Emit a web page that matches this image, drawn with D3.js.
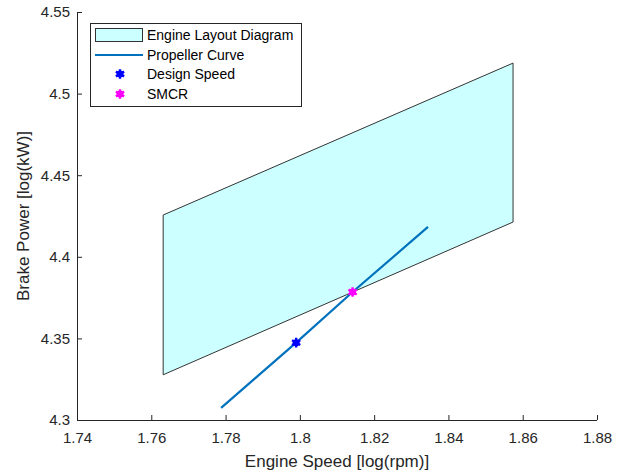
<!DOCTYPE html>
<html><head><meta charset="utf-8">
<script src="https://cdn.jsdelivr.net/npm/d3@7"></script>
<style>body{margin:0;background:#fff;} text{font-family:"Liberation Sans",Arial,sans-serif;}</style>
</head><body>
<svg id="c" width="628" height="473"></svg>
<script>
// Data
const layoutX = [1.7632, 1.7632, 1.8574, 1.8574];
const layoutY = [4.3277, 4.4256, 4.5187, 4.4213];
const propX = [1.7788, 1.7990, 1.8142, 1.8345];
const propY = [4.3074, 4.3474, 4.3784, 4.4183];
const designX = [1.7990], designY = [4.3474];
const smcrX = [1.8142], smcrY = [4.3784];
const xTicks = [1.74, 1.76, 1.78, 1.80, 1.82, 1.84, 1.86, 1.88];
const xTickLabels = ["1.74","1.76","1.78","1.8","1.82","1.84","1.86","1.88"];
const yTicks = [4.30, 4.35, 4.40, 4.45, 4.50, 4.55];
const yTickLabels = ["4.3","4.35","4.4","4.45","4.5","4.55"];
const legendLabels = ["Engine Layout Diagram","Propeller Curve","Design Speed","SMCR"];

const svg = d3.select("#c");
const L = 77, R = 597, T = 12, B = 420;
const x = d3.scaleLinear().domain([1.74, 1.88]).range([L, R]);
const y = d3.scaleLinear().domain([4.30, 4.55]).range([B, T]);
const axisCol = "#262626";

// patch
const poly = layoutX.map((v,i)=>[x(v), y(layoutY[i])]);
svg.append("path").attr("d", d3.line()(poly) + "Z")
  .attr("fill", "#ccffff").attr("stroke", "#333").attr("stroke-width", 1);

// propeller curve
svg.append("path").attr("d", d3.line().x(d=>x(d[0])).y(d=>y(d[1]))(propX.map((v,i)=>[v, propY[i]])))
  .attr("fill","none").attr("stroke","#0072BD").attr("stroke-width",2.2);

const star = d3.symbol().type(d3.symbolAsterisk).size(64);
function marker(g, cx, cy, col){
  g.append("path").attr("d", star()).attr("transform",`translate(${cx},${cy})`)
    .attr("fill","none").attr("stroke",col).attr("stroke-width",2.4);
  g.append("circle").attr("cx",cx).attr("cy",cy).attr("r",3.5).attr("fill",col);
}
designX.forEach((v,i)=>marker(svg, x(v), y(designY[i]), "#0000ff"));
smcrX.forEach((v,i)=>marker(svg, x(v), y(smcrY[i]), "#ff00ff"));

// axes
const xa = svg.append("g").attr("transform",`translate(0,${B})`)
  .call(d3.axisBottom(x).tickValues(xTicks).tickFormat((d,i)=>xTickLabels[i]).tickSize(-5).tickPadding(12));
const ya = svg.append("g").attr("transform",`translate(${L},0)`)
  .call(d3.axisLeft(y).tickValues(yTicks).tickFormat((d,i)=>yTickLabels[i]).tickSize(-5).tickPadding(7));
[xa, ya].forEach(a=>{
  a.select(".domain").attr("stroke", axisCol).attr("stroke-width",1);
  a.selectAll(".tick line").attr("stroke", axisCol);
  a.selectAll(".tick text").attr("fill", axisCol).style("font-size","15px")
   .style("font-family","'Liberation Sans',Arial,sans-serif");
});
xa.select(".domain").attr("d", `M${L},0.5H${R}`);
ya.select(".domain").attr("d", `M0.5,${B}V${T}`);

svg.append("text").attr("x",(L+R)/2).attr("y",467).attr("text-anchor","middle")
  .attr("fill",axisCol).style("font-size","17px").text("Engine Speed [log(rpm)]");
svg.append("text").attr("transform",`translate(29,${(T+B)/2}) rotate(-90)`).attr("text-anchor","middle")
  .attr("fill",axisCol).style("font-size","17px").text("Brake Power [log(kW)]");

// legend
const lg = svg.append("g");
lg.append("rect").attr("x",90.5).attr("y",23.5).attr("width",211).attr("height",83)
  .attr("fill","#fff").attr("stroke",axisCol).attr("stroke-width",1);
const rowY = [35, 55, 74, 94];
lg.append("rect").attr("x",95.5).attr("y",28.5).attr("width",47).attr("height",13)
  .attr("fill","#ccffff").attr("stroke","#333");
lg.append("line").attr("x1",95).attr("x2",143).attr("y1",rowY[1]).attr("y2",rowY[1])
  .attr("stroke","#0072BD").attr("stroke-width",2.2);
marker(lg, 120, rowY[2], "#0000ff");
marker(lg, 120, rowY[3], "#ff00ff");
legendLabels.forEach((t,i)=>{
  lg.append("text").attr("x",147).attr("y",rowY[i]+5).attr("fill","#000")
    .style("font-size","14px").text(t);
});
</script>
</body></html>
